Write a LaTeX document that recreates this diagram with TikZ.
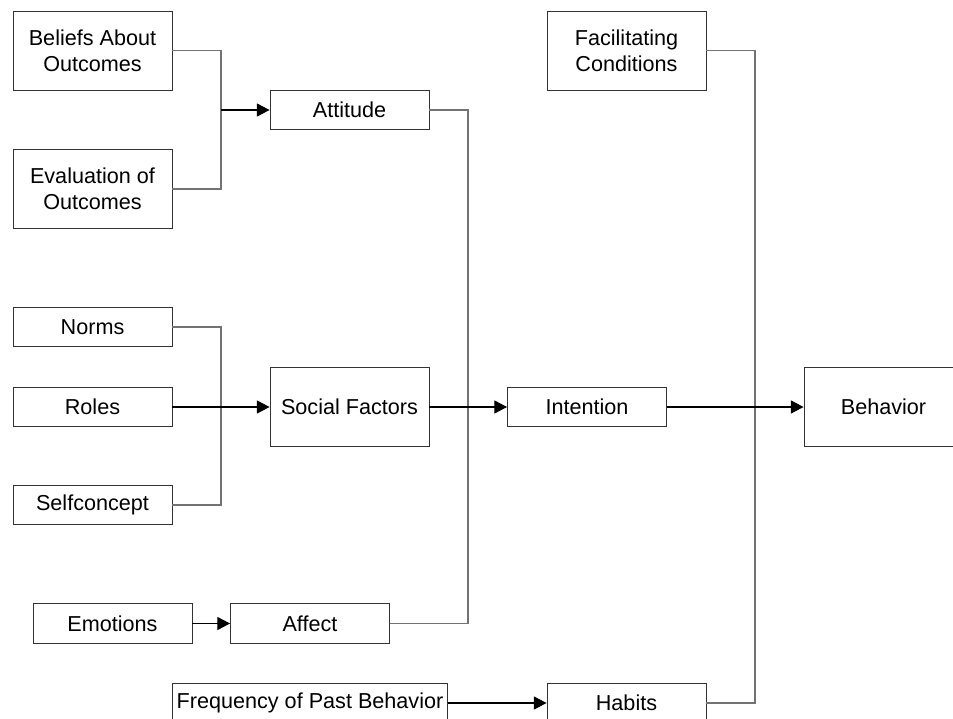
\documentclass[tikz,border=0pt]{standalone}
\usepackage{fontspec}
\setmainfont{Liberation Sans}
\usetikzlibrary{arrows.meta}

\begin{document}
\begin{tikzpicture}[x=0.02cm, y=-0.02cm,
        box/.style={draw=black!80, line width=0.55pt, align=center, inner sep=0pt,
            minimum width=3.18cm, minimum height=0.79cm,
            font=\fontsize{12.3}{14.8}\selectfont},
        tall/.style={minimum height=1.58cm},
        link/.style={draw=black!55, line width=0.6pt},
        flow/.style={draw=black, line width=0.6pt, -{Triangle[length=7.2pt, width=7.4pt]}}]
        \clip (0,0) rectangle (953,719);

        \node (beliefs) [box, tall] at (92.5,50.5) {Beliefs About\\Outcomes};
        \node (evaluation) [box, tall] at (92.5,189) {Evaluation of\\Outcomes};
        \node (attitude) [box] at (349.5,110) {Attitude};
        \node (facilitating) [box, tall] at (626.5,50.5) {Facilitating\\Conditions};

        \node (norms) [box] at (92.5,327) {Norms};
        \node (roles) [box] at (92.5,407) {Roles};
        \node (selfconcept) [box] at (92.5,505) {Selfconcept};
        \node (social) [box, tall] at (349.5,407) {Social Factors};
        \node (intention) [box] at (587,407) {Intention};
        \node (behavior) [box, tall] at (883.5,407) {Behavior};

        \node (emotions) [box] at (112.5,623.5) {Emotions};
        \node (affect) [box] at (310,623.5) {Affect};
        \node (frequency) [box, minimum width=5.52cm] at (310,703) {Frequency of Past Behavior};
        \node (habits) [box] at (626.5,703) {Habits};

        \coordinate (j1) at (221,110);
        \coordinate (j2) at (221,407);
        \coordinate (j3) at (468,407);
        \coordinate (j4) at (755,407);

        \path [link] (beliefs) -| (j1)
                     (evaluation) -| (j1)
                     (norms) -| (j2)
                     (selfconcept) -| (j2)
                     (attitude) -| (j3)
                     (affect) -| (j3)
                     (facilitating) -| (j4)
                     (habits) -| (j4);

        \path (j1) edge [flow] (attitude)
              (roles) edge [flow] (social)
              (social) edge [flow] (intention)
              (intention) edge [flow] (behavior)
              (emotions) edge [flow] (affect)
              (frequency) edge [flow] (habits);
    \end{tikzpicture}
\end{document}
